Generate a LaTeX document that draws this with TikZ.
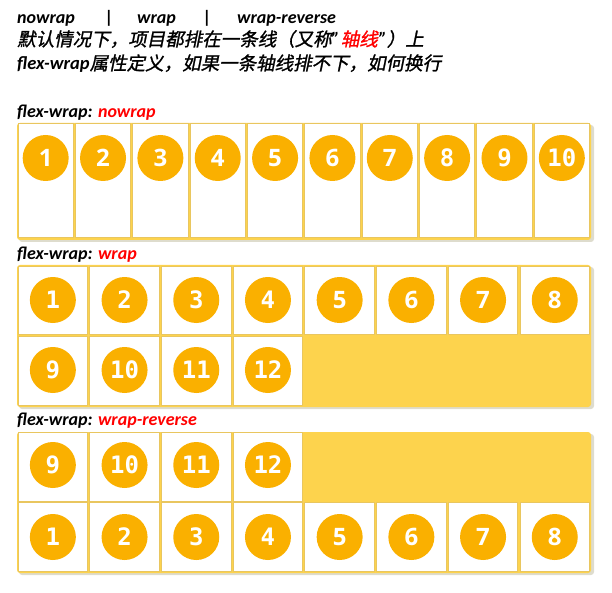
\documentclass[tikz,border=0pt]{standalone}
\usepackage{fontspec}
\setmainfont{Carlito}
\newfontfamily\cjk[FakeSlant=0.2,FakeBold=1.2]{Noto Sans CJK SC}
\newfontfamily\numsans{Open Sans}
\newfontfamily\nummono{DejaVu Sans Mono}
\definecolor{boxyellow}{RGB}{253,211,77}
\definecolor{itemborder}{RGB}{233,198,95}
\definecolor{ballorange}{RGB}{250,176,0}
\definecolor{shadowgrey}{RGB}{222,220,205}
\definecolor{redtxt}{RGB}{255,0,0}
\newcommand{\latbi}[1]{{\normalfont\bfseries\itshape #1}}
\newcommand{\zh}[1]{{\cjk\mdseries\upshape #1}}
\tikzset{
  head/.style={anchor=base west, inner sep=0pt, font=\fontsize{18}{20}\selectfont\bfseries\itshape},
  cjkline/.style={anchor=base west, inner sep=0pt, font=\fontsize{18.5}{20}\selectfont},
  container/.style={fill=boxyellow, draw=none, rounded corners=3pt},
  shadowbox/.style={fill=shadowgrey, draw=none, rounded corners=3pt},
  item/.style={draw=itemborder, line width=1pt, fill=white, inner sep=0pt},
  ball/.style={circle, fill=ballorange, minimum size=46pt, inner sep=0pt, text=white, font=\fontsize{24}{24}\selectfont\bfseries}
}
\begin{document}
\begin{tikzpicture}[x=1pt,y=-1pt]
\useasboundingbox (0,0) rectangle (612,593);
% header
\node[head] (h1) at (17,24) {nowrap};
\node[head] (h2) at (105,24) {|};
\node[head] (h3) at (137,24) {wrap};
\node[head] (h4) at (203,24) {|};
\node[head] (h5) at (237,24) {wrap-reverse};
\node[cjkline] (l2) at (17,46) {\zh{默认情况下，项目都排在一条线（又称}\latbi{"}\kern1pt\textcolor{redtxt}{\zh{轴线}}\kern1pt\latbi{"}\zh{）上}};
\node[cjkline] (l3) at (17,70) {\latbi{flex-wrap}\zh{属性定义，如果一条轴线排不下，如何换行}};
% section labels
\node[head] (s1) at (17,118) {flex-wrap: \textcolor{redtxt}{nowrap}};
\node[head] (s2) at (17,260) {flex-wrap: \textcolor{redtxt}{wrap}};
\node[head] (s3) at (17,425) {flex-wrap: \textcolor{redtxt}{wrap-reverse}};
% ---------- section 1: nowrap ----------
\fill[shadowbox] (19,125) rectangle (594,242);
\fill[container] (17,123) rectangle (591,240);
\foreach \i/\f in {1/\numsans,2/\numsans,3/\numsans,4/\numsans,5/\numsans,6/\numsans,7/\numsans,8/\nummono,9/\nummono,10/\nummono}{
  \pgfmathsetmacro{\cx}{17+(\i-0.5)*57.35}
  \node[item, minimum width=55.3pt, minimum height=114pt] (a\i) at (\cx,181) {};
  \node[ball] (an\i) at (\cx,158) {\f\i};
}
% ---------- section 2: wrap ----------
\fill[shadowbox] (19,267) rectangle (594,409);
\fill[container] (17,265) rectangle (591,407);
\foreach \i/\f in {1/\nummono,2/\nummono,3/\nummono,4/\nummono,5/\numsans,6/\numsans,7/\numsans,8/\numsans}{
  \pgfmathsetmacro{\cx}{17+(\i-0.5)*71.7}
  \node[item, minimum width=69.5pt, minimum height=68.5pt] (b\i) at (\cx,300.5) {};
  \node[ball] (bn\i) at (\cx,300) {\f\i};
}
\foreach \i/\f in {9/\nummono,10/\nummono,11/\nummono,12/\nummono}{
  \pgfmathsetmacro{\cx}{17+(\i-8.5)*71.7}
  \node[item, minimum width=69.5pt, minimum height=68.5pt] (b\i) at (\cx,371) {};
  \node[ball] (bn\i) at (\cx,370) {\f\i};
}
% ---------- section 3: wrap-reverse ----------
\fill[shadowbox] (19,434) rectangle (594,575);
\fill[container] (17,432) rectangle (591,573);
\foreach \i/\f in {9/\nummono,10/\nummono,11/\nummono,12/\nummono}{
  \pgfmathsetmacro{\cx}{17+(\i-8.5)*71.7}
  \node[item, minimum width=69.5pt, minimum height=68.5pt] (c\i) at (\cx,467) {};
  \node[ball] (cn\i) at (\cx,465) {\f\i};
}
\foreach \i/\f in {1/\nummono,2/\nummono,3/\nummono,4/\nummono,5/\numsans,6/\numsans,7/\numsans,8/\numsans}{
  \pgfmathsetmacro{\cx}{17+(\i-0.5)*71.7}
  \node[item, minimum width=69.5pt, minimum height=68.5pt] (c\i) at (\cx,537) {};
  \node[ball] (cn\i) at (\cx,537) {\f\i};
}
\end{tikzpicture}
\end{document}
